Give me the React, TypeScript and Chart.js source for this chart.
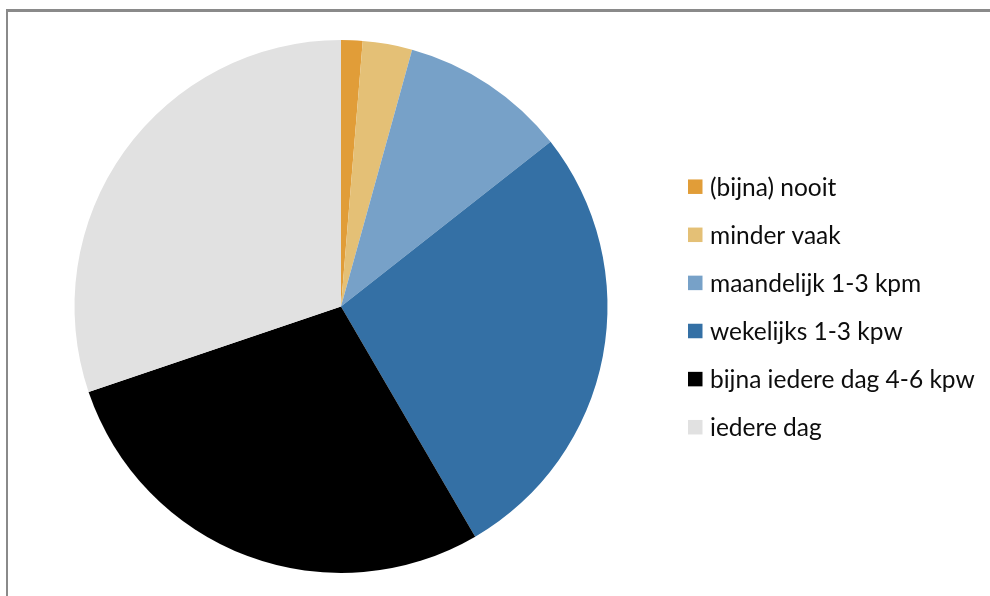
import React, { useEffect, useRef } from "react";
import { Chart, registerables } from "chart.js";

Chart.register(...registerables);

const labels = [
  "(bijna) nooit",
  "minder vaak",
  "maandelijk 1-3 kpm",
  "wekelijks 1-3 kpw",
  "bijna iedere dag 4-6 kpw",
  "iedere dag",
];
const values = [1.3, 3.0, 10.1, 27.2, 28.2, 30.2];
const colors = ["#E19D38", "#E4C076", "#77A1C8", "#3470A5", "#000000", "#E1E1E1"];

const legendPlugin = {
  id: "customLegend",
  afterDraw(chart: any) {
    const ctx = chart.ctx;
    const lbls = chart.data.labels as string[];
    const bg = chart.data.datasets[0].backgroundColor as string[];
    const x0 = 688;
    const y0 = 186.7;
    const step = 48.1;
    const box = 14.5;
    ctx.save();
    ctx.font = "24.5px Lato, 'Open Sans', sans-serif";
    ctx.textBaseline = "middle";
    ctx.textAlign = "left";
    lbls.forEach((l, i) => {
      const cy = y0 + i * step;
      ctx.fillStyle = bg[i];
      ctx.fillRect(x0, cy - box / 2, box, box);
      ctx.fillStyle = "#0d0d0d";
      ctx.fillText(l, 710, cy + 1);
    });
    ctx.restore();
  },
};

export default function App() {
  const ref = useRef<HTMLCanvasElement | null>(null);
  useEffect(() => {
    if (!ref.current) return;
    const chart = new Chart(ref.current, {
      type: "pie",
      data: {
        labels,
        datasets: [
          {
            data: values,
            backgroundColor: colors,
            borderWidth: 0,
          },
        ],
      },
      options: {
        animation: false,
        responsive: false,
        devicePixelRatio: 1,
        layout: {
          padding: { left: 74.5, right: 382.5, top: 40, bottom: 23 },
        },
        plugins: {
          legend: { display: false },
          tooltip: { enabled: false },
        },
      },
      plugins: [legendPlugin],
    });
    return () => chart.destroy();
  }, []);
  return (
    <div style={{ position: "fixed", left: 0, top: 0, width: 990, height: 596, background: "#fff", overflow: "hidden" }}>
      <div
        style={{
          position: "absolute",
          left: 6,
          top: 9,
          width: 1100,
          height: 700,
          borderLeft: "2px solid #8a8a8a",
          borderTop: "3px solid #8a8a8a",
        }}
      />
      <canvas ref={ref} width={990} height={596} style={{ position: "absolute", left: 0, top: 0, width: 990, height: 596 }} />
    </div>
  );
}
